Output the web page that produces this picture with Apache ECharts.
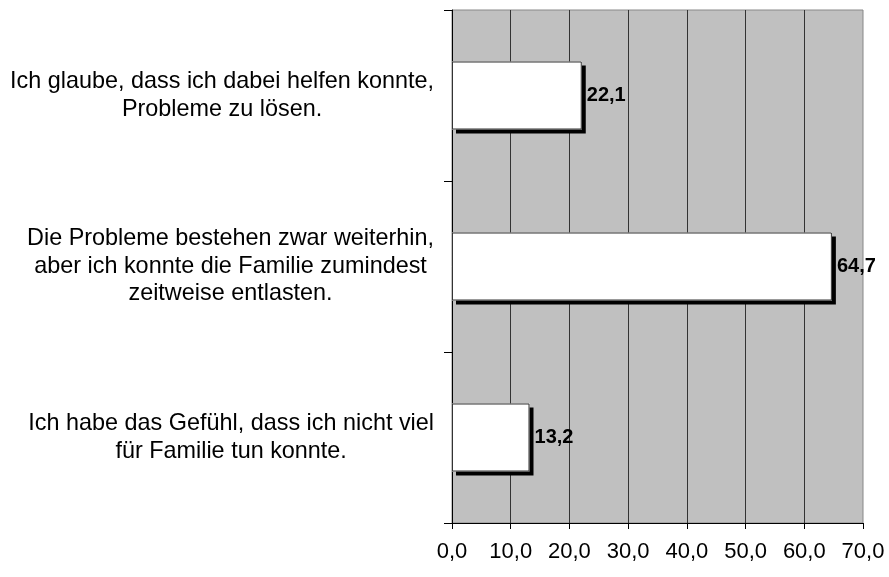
<!DOCTYPE html>
<html>
<head>
<meta charset="utf-8">
<script src="https://cdn.jsdelivr.net/npm/echarts@6/dist/echarts.min.js"></script>
<style>html,body{margin:0;padding:0;background:#fff;}#c{width:889px;height:577px;}</style>
</head>
<body>
<div id="c"></div>
<script>
const categories = [
  "Ich glaube, dass ich dabei helfen konnte,\nProbleme zu lösen.",
  "Die Probleme bestehen zwar weiterhin,\naber ich konnte die Familie zumindest\nzeitweise entlasten.",
  "Ich habe das Gefühl, dass ich nicht viel\nfür Familie tun konnte."
];
const values = [22.1, 64.7, 13.2];
const axisMin = 0, axisMax = 70, axisStep = 10;

const FONT = '"Liberation Sans", Arial, sans-serif';
const fmt = v => Number(v).toFixed(1).replace('.', ',');

const chart = echarts.init(document.getElementById('c'), null, {renderer: 'canvas'});
chart.setOption({
  animation: false,
  backgroundColor: '#ffffff',
  grid: {
    left: 452, right: 26, top: 10, bottom: 54,
    show: true, backgroundColor: '#c0c0c0', borderColor: '#888888', borderWidth: 1
  },
  xAxis: {
    type: 'value', min: axisMin, max: axisMax, interval: axisStep,
    axisLine: {show: true, lineStyle: {color: '#000', width: 1}},
    axisTick: {show: true, length: 6, lineStyle: {color: '#000'}},
    axisLabel: {formatter: fmt, color: '#000', fontSize: 22, fontFamily: FONT, margin: 18},
    splitLine: {show: true, showMaxLine: false, lineStyle: {color: '#333', width: 1}}
  },
  yAxis: {
    type: 'category', data: categories, inverse: true,
    axisLine: {show: true, lineStyle: {color: '#000', width: 1}},
    axisTick: {show: true, length: 8, lineStyle: {color: '#000'}},
    axisLabel: {
      color: '#000', margin: 18, align: 'right',
      formatter: v => v.split('\n').map(l => '{c|' + l + '}').join('\n'),
      rich: {c: {align: 'center', fontSize: 23.4, lineHeight: 27.5, fontFamily: FONT, color: '#000'}}
    },
    splitLine: {show: false}
  },
  series: [{
    type: 'bar', data: values, barWidth: 68, silent: true,
    itemStyle: {
      color: '#ffffff', borderWidth: 0,
      shadowColor: '#000', shadowOffsetX: 4, shadowOffsetY: 4, shadowBlur: 0
    }
  }, {
    type: 'bar', data: values, barWidth: 68, barGap: '-100%',
    itemStyle: {color: 'rgba(0,0,0,0)', borderColor: '#333', borderWidth: 1},
    label: {
      show: true, position: 'right', distance: 5, formatter: p => fmt(p.value),
      color: '#000', fontWeight: 'bold', fontSize: 20, fontFamily: FONT
    }
  }]
});
</script>
</body>
</html>
